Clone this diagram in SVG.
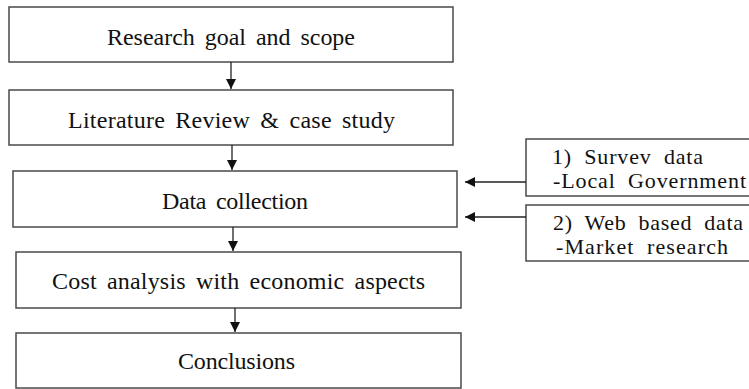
<svg xmlns="http://www.w3.org/2000/svg" width="749" height="389" viewBox="0 0 749 389">
<defs>
<style>
.box{fill:#fff;stroke:#4a4a4a;stroke-width:1.5}
.t{font-family:"Liberation Serif","Times New Roman",serif;font-size:24px;fill:#111;word-spacing:4px}
.s{font-size:22px;word-spacing:6px}
.ln{stroke:#222;stroke-width:1.3;fill:none}
</style>
<marker id="ah" viewBox="0 0 10 10" refX="10" refY="5" markerWidth="10" markerHeight="10" markerUnits="userSpaceOnUse" orient="auto">
<path d="M0,0 L10,5 L0,10 Z" fill="#111"/>
</marker>
</defs>
<rect width="749" height="389" fill="#fff"/>
<g id="n1"><rect class="box" x="9" y="7" width="444" height="55"/><text class="t" x="107" y="45" textLength="248" lengthAdjust="spacing">Research goal and scope</text></g>
<g id="n2"><rect class="box" x="9" y="90" width="444" height="55"/><text class="t" x="68" y="128" textLength="327" lengthAdjust="spacing">Literature Review &amp; case study</text></g>
<g id="n3"><rect class="box" x="13" y="171" width="444" height="56"/><text class="t" x="162" y="209" textLength="146" lengthAdjust="spacing">Data collection</text></g>
<g id="n4"><rect class="box" x="16" y="252" width="445" height="56"/><text class="t" x="52" y="289" textLength="373" lengthAdjust="spacing">Cost analysis with economic aspects</text></g>
<g id="n5"><rect class="box" x="16" y="333" width="445" height="55"/><text class="t" x="178" y="369" textLength="117" lengthAdjust="spacing">Conclusions</text></g>
<g id="s1"><rect class="box" x="526" y="139" width="240" height="57"/><text class="t s" x="552" y="164" textLength="151" lengthAdjust="spacing">1) Survev data</text><text class="t s" x="553" y="188" textLength="193" lengthAdjust="spacing">-Local Government</text></g>
<g id="s2"><rect class="box" x="526" y="205" width="240" height="56"/><text class="t s" x="553" y="230" textLength="190" lengthAdjust="spacing">2) Web based data</text><text class="t s" x="556" y="254" textLength="172" lengthAdjust="spacing">-Market research</text></g>
<g id="connectors">
<line class="ln" x1="231" y1="62" x2="231" y2="89" marker-end="url(#ah)"/>
<line class="ln" x1="232" y1="145" x2="232" y2="170" marker-end="url(#ah)"/>
<line class="ln" x1="233" y1="227" x2="233" y2="251" marker-end="url(#ah)"/>
<line class="ln" x1="235" y1="308" x2="235" y2="332" marker-end="url(#ah)"/>
<line class="ln" x1="526" y1="182" x2="465" y2="182" marker-end="url(#ah)"/>
<line class="ln" x1="526" y1="217" x2="465" y2="217" marker-end="url(#ah)"/>
</g>
</svg>
